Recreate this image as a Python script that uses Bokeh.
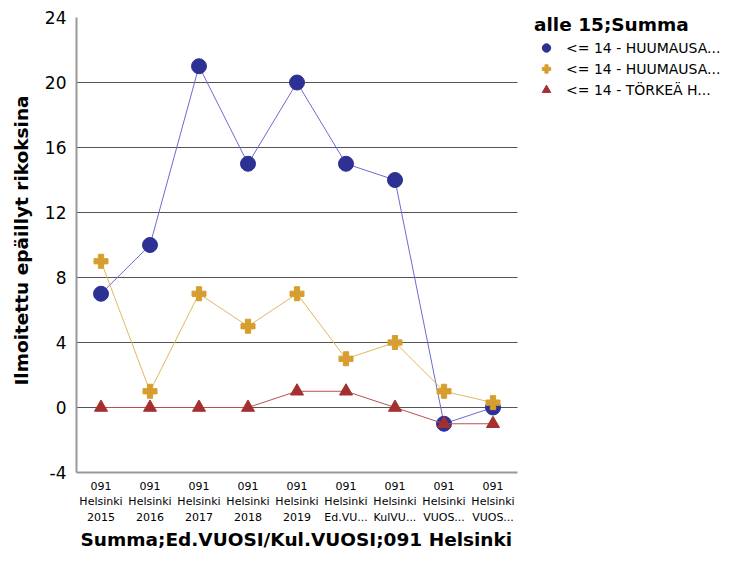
from bokeh.plotting import figure
from bokeh.models import Legend, LegendItem, FixedTicker, Range1d, Title
from bokeh.embed import file_html
from bokeh.resources import INLINE

categories = ["091\nHelsinki\n2015", "091\nHelsinki\n2016", "091\nHelsinki\n2017",
              "091\nHelsinki\n2018", "091\nHelsinki\n2019", "091\nHelsinki\nEd.VU...",
              "091\nHelsinki\nKulVU...", "091\nHelsinki\nVUOS...", "091\nHelsinki\nVUOS..."]
series_names = ["<= 14 - HUUMAUSA...", "<= 14 - HUUMAUSA...", "<= 14 - TÖRKEÄ H..."]
s1 = [7, 10, 21, 15, 20, 15, 14, -1, 0]
s2 = [9, 1, 7, 5, 7, 3, 4, 1, 0.3]
s3 = [0, 0, 0, 0, 1, 1, 0, -1, -1]
y_ticks = [-4, 0, 4, 8, 12, 16, 20, 24]
grid_values = [0, 4, 8, 12, 16, 20]
x_title = "Summa;Ed.VUOSI/Kul.VUOSI;091 Helsinki"
y_title = "Ilmoitettu epäillyt rikoksina"
legend_title = "alle 15;Summa"

xs = list(range(len(categories)))
n = len(categories)

W, H = 729, 563
L, T, R, B = 76, 8, 729, 472          # frame edges in px
PX_X = 49.0                            # px per category
PX_Y = 16.25                           # px per unit
x_end = -0.5 + (R - L) / PX_X
y_end = 24 + (17 - T) / PX_Y

FONT = "DejaVu Sans"
p = figure(width=W, height=H, output_backend="svg", toolbar_location=None,
           x_range=Range1d(-0.5, x_end), y_range=Range1d(-4, y_end),
           min_border_left=L, min_border_right=W - R, min_border_top=T, min_border_bottom=H - B)
p.outline_line_color = None
p.background_fill_color = "white"
p.xgrid.grid_line_color = None
p.ygrid.grid_line_color = None

# horizontal grid lines limited to the data area
p.segment(x0=[-0.5] * len(grid_values), x1=[n - 0.5] * len(grid_values),
          y0=grid_values, y1=grid_values, line_color="#555555", line_width=1.2)

p.xaxis.ticker = FixedTicker(ticks=xs)
p.xaxis.major_label_overrides = {i: c for i, c in enumerate(categories)}
p.xaxis.bounds = (-0.5, n - 0.5)
p.yaxis.ticker = FixedTicker(ticks=y_ticks)
p.yaxis.major_label_overrides = {t: str(t) for t in y_ticks}
p.yaxis.bounds = (-4, 24)

for ax in (p.xaxis, p.yaxis):
    ax.axis_line_color = "#999999"
    ax.axis_line_width = 2
    ax.major_tick_line_color = None
    ax.minor_tick_line_color = None
    ax.major_label_text_font = FONT
    ax.axis_label_text_font = FONT
    ax.axis_label_text_font_style = "bold"
    ax.axis_label_text_color = "black"
    ax.major_label_text_color = "black"

p.yaxis.major_label_text_font_size = "17px"
p.yaxis.major_label_standoff = 4
p.yaxis.axis_label = y_title
p.yaxis.axis_label_text_font_size = "18.5px"
p.yaxis.axis_label_standoff = 10
p.xaxis.major_label_text_font_size = "11px"
p.xaxis.major_label_standoff = 1

p.add_layout(Title(text=x_title, align="left", offset=4,
                   text_font=FONT, text_font_size="18.5px", text_font_style="bold",
                   text_color="black", standoff=0), "below")

l1 = p.line(xs, s1, line_color="#6b6bd0", line_width=1)
m1 = p.scatter(xs, s1, marker="circle", size=15, fill_color="#2e3194", line_color="#2e3194")
l2 = p.line(xs, s2, line_color="#e3b660", line_width=1)
m2 = p.scatter(xs, s2, marker="plus", size=14, fill_color="#d69e2e", line_color="#d69e2e")
l3 = p.line(xs, s3, line_color="#b85050", line_width=1)
m3 = p.scatter(xs, s3, marker="triangle", size=13, fill_color="#a52f2f", line_color="#a52f2f")

legend = Legend(items=[LegendItem(label=series_names[0], renderers=[m1]),
                       LegendItem(label=series_names[1], renderers=[m2]),
                       LegendItem(label=series_names[2], renderers=[m3])],
                location=(458, 372), title=legend_title,
                title_text_font=FONT, title_text_font_style="bold", title_text_font_size="18.5px",
                label_text_font=FONT, label_text_font_size="14px", label_text_color="black",
                title_text_color="black",
                border_line_color=None, background_fill_alpha=0,
                glyph_width=24, glyph_height=21, spacing=0, padding=2, margin=0,
                label_standoff=8, title_standoff=2)
p.add_layout(legend)

open("out.html", "w").write(file_html(p, INLINE))
